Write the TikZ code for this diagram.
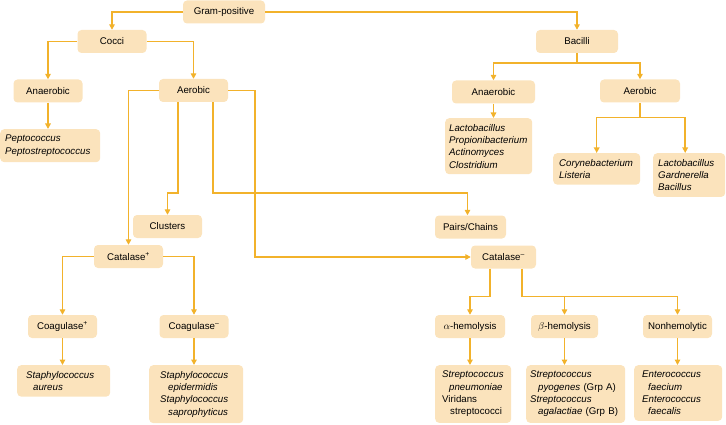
\documentclass[tikz,border=0pt]{standalone}
\usepackage{fontspec}
\setmainfont{Liberation Sans}
\usetikzlibrary{arrows.meta}
\definecolor{boxfill}{HTML}{FBE3BC}
\definecolor{linegold}{HTML}{F2B22B}
\begin{document}
\begin{tikzpicture}[x=1pt,y=-1pt,
        font=\fontsize{9.7}{12.3}\selectfont,
        label/.style={fill=boxfill,rounded corners=4pt,minimum width=69pt,minimum height=23pt,inner sep=2pt},
        taxa/.style={fill=boxfill,rounded corners=4pt,anchor=north west,align=left,inner xsep=6pt,inner ysep=6pt,font=\fontsize{9.7}{12.3}\selectfont\itshape},
        link/.style={draw=linegold,line width=1.5pt,-{Triangle[length=5.5pt,width=5.5pt]}},
        plain/.style={draw=linegold,line width=1.5pt}]
        \useasboundingbox (0,0) rectangle (726,425);
        % top levels
        \node[label,minimum width=82pt] (gram) at (224,12) {Gram-positive};
        \node[label] (cocci) at (112,41.5) {Cocci};
        \node[label,minimum width=82pt] (bac) at (577,41.5) {Bacilli};
        \node[label] (canaer) at (48,91) {Anaerobic};
        \node[label] (caer) at (193.5,90.5) {Aerobic};
        \node[label,minimum width=83pt] (banaer) at (493.5,92) {Anaerobic};
        \node[label,minimum width=80pt] (baer) at (640,91) {Aerobic};
        \node[taxa,inner xsep=5pt,text width=90pt] (pepto) at (0,129) {Peptococcus\\Peptostreptococcus};
        \node[taxa,inner xsep=4pt,text width=79pt] (lacto) at (445,118) {Lactobacillus\\Propionibacterium\\Actinomyces\\Clostridium};
        \node[taxa,text width=75pt] (coryne) at (553,153) {Corynebacterium\\Listeria};
        \node[taxa,inner xsep=5pt,text width=62pt] (lgb) at (653,153) {Lactobacillus\\Gardnerella\\Bacillus};
        % cocci, aerobic
        \node[label] (clusters) at (167.5,226.5) {Clusters};
        \node[label,minimum width=71pt] (pairs) at (470.5,227) {Pairs/Chains};
        \node[label] (catpos) at (128.5,256.5) {Catalase\textsuperscript{+}};
        \node[label,minimum width=65pt] (catneg) at (503.5,257) {Catalase\textsuperscript{\textendash}};
        \node[label] (coagpos) at (62.5,326.5) {Coagulase\textsuperscript{+}};
        \node[label] (coagneg) at (194,326.5) {Coagulase\textsuperscript{\textendash}};
        \node[label,minimum width=70pt] (alpha) at (470,326.5) {$\alpha$-hemolysis};
        \node[label,minimum width=67pt] (beta) at (564.5,326.5) {$\beta$-hemolysis};
        \node[label] (nonhem) at (677.5,326.5) {Nonhemolytic};
        \node[taxa,inner xsep=9pt,text width=75pt] (aureus) at (17,365) {Staphylococcus\\\hspace*{7pt}aureus};
        \node[taxa,inner xsep=11pt,text width=72pt] (epid) at (149,365) {Staphylococcus\\\hspace*{8pt}epidermidis\\Staphylococcus\\\hspace*{8pt}saprophyticus};
        \node[taxa,inner xsep=7pt,text width=62pt] (pneu) at (435,365) {Streptococcus\\\hspace*{7pt}pneumoniae\\{\upshape Viridans}\\\hspace*{8pt}{\upshape streptococci}};
        \node[taxa,inner xsep=4pt,text width=91pt] (pyog) at (526,365) {Streptococcus\\\hspace*{8pt}pyogenes {\upshape(Grp A)}\\Streptococcus\\\hspace*{8pt}agalactiae {\upshape(Grp B)}};
        \node[taxa,inner xsep=8pt,text width=72pt] (entero) at (634,365) {Enterococcus\\\hspace*{6pt}faecium\\Enterococcus\\\hspace*{6pt}faecalis};
        % connectors
        \draw[link] (gram.west) -| (cocci.north);
        \draw[link] (gram.east) -| (bac.north);
        \draw[link] (cocci.west) -| (canaer.north);
        \draw[link] (cocci.east) -| (caer.north);
        \draw[link] (canaer.south) -- (canaer.south |- pepto.north);
        \draw[plain] (bac.south) -- ++(0,10) coordinate (bsplit);
        \draw[link] (bsplit) -| (banaer.north);
        \draw[link] (bsplit) -| (baer.north);
        \draw[link] (banaer.south) -- (banaer.south |- lacto.north);
        \draw[plain] (baer.south) -- ++(0,15) coordinate (asplit);
        \draw[link] (asplit) -| (coryne.north);
        \draw[link] (asplit) -| ([xshift=-4pt]lgb.north);
        \draw[link] (caer.west) -| (catpos.north);
        \draw[link] ([xshift=-15.5pt]caer.south) -- ++(0,91) -| (clusters.north);
        \draw[link] ([xshift=19.5pt]caer.south) -- ++(0,91) -| ([xshift=-3pt]pairs.north);
        \draw[link] (caer.east) -- ++(27,0) |- (catneg.west);
        \draw[link] (catpos.west) -| (coagpos.north);
        \draw[link] (catpos.east) -| (coagneg.north);
        \draw[link] (coagpos.south) -- (coagpos.south |- aureus.north);
        \draw[link] (coagneg.south) -- (coagneg.south |- epid.north);
        \draw[link] ([xshift=-13.5pt]catneg.south) -- ++(0,28) -| (alpha.north);
        \draw[link] ([xshift=18.5pt]catneg.south) -- ++(0,28) coordinate (hsplit) -| (nonhem.north);
        \draw[link] (hsplit -| beta.north) -- (beta.north);
        \draw[link] (alpha.south) -- (alpha.south |- pneu.north);
        \draw[link] (beta.south) -- (beta.south |- pyog.north);
        \draw[link] (nonhem.south) -- (nonhem.south |- entero.north);
    \end{tikzpicture}
\end{document}
